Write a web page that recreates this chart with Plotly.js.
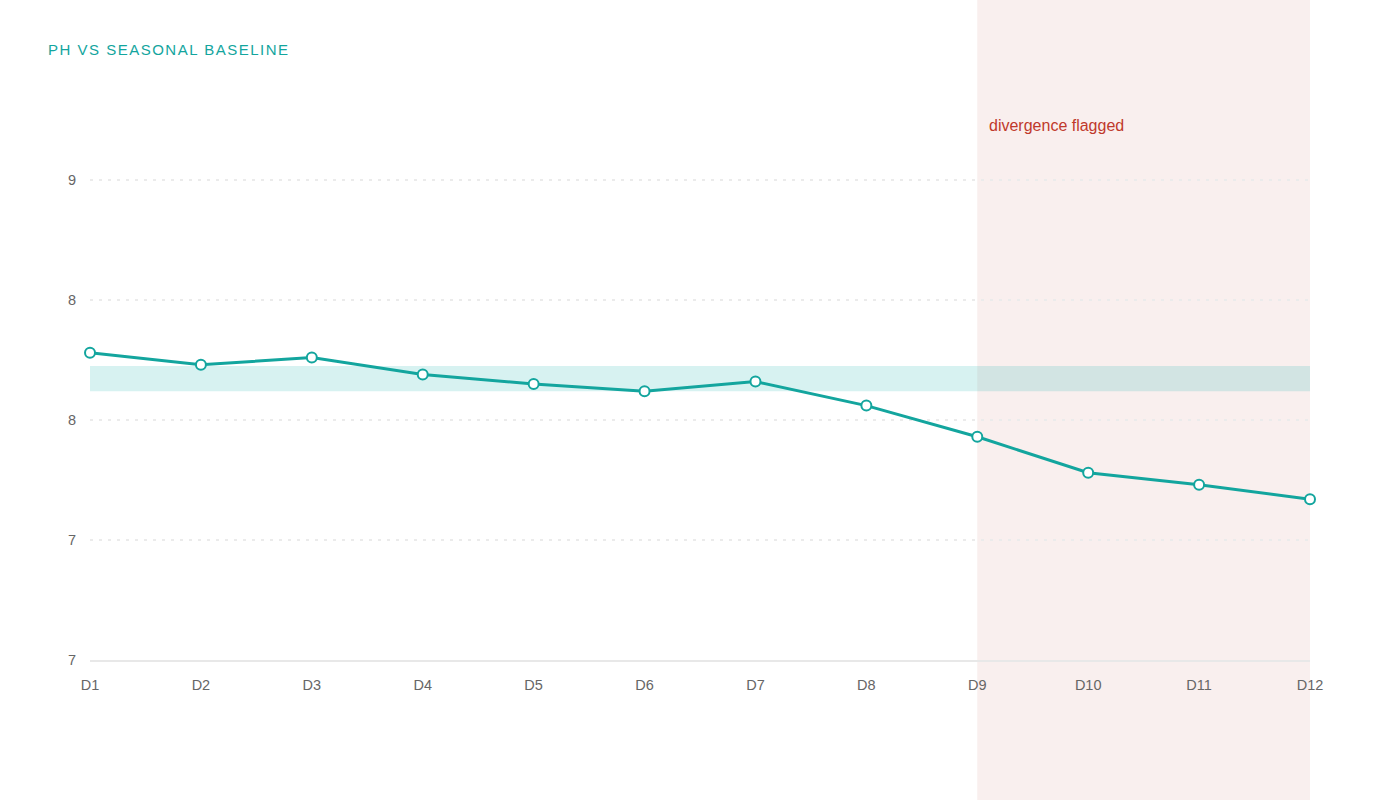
<!DOCTYPE html>
<html>
<head>
<meta charset="utf-8">
<script src="https://cdn.plot.ly/plotly-3.0.1.min.js"></script>
<style>
  html, body { margin: 0; padding: 0; background: #fff; }
  #plot { width: 1400px; height: 800px; }
</style>
</head>
<body>
<div id="plot"></div>
<script>
// days along the x axis
var days = ['D1', 'D2', 'D3', 'D4', 'D5', 'D6', 'D7', 'D8', 'D9', 'D10', 'D11', 'D12'];
var phValues = [8.28, 8.23, 8.26, 8.19, 8.15, 8.12, 8.16, 8.06, 7.93, 7.78, 7.73, 7.67];
// seasonal baseline band (low / high)
var baselineBand = [8.12, 8.225];
// the flagged stretch starts and ends on these days
var flaggedDays = ['D9', 'D12'];
// y ticks and the labels the chart shows for them
var yTickVals = [7, 7.5, 8, 8.5, 9];
var yTickText = ['7', '7', '8', '8', '9'];

var teal = '#13a59e';
var font = 'Liberation Sans, Arial, sans-serif';

var trace1 = {
  x: days,
  y: phValues,
  type: 'scatter',
  mode: 'lines+markers',
  line: { color: teal, width: 3 },
  marker: { size: 10, color: '#ffffff', line: { color: teal, width: 2 } },
  cliponaxis: false,
  hoverinfo: 'skip',
  showlegend: false
};

var layout = {
  width: 1400,
  height: 800,
  margin: { l: 90, r: 90, t: 84, b: 140 },
  paper_bgcolor: '#ffffff',
  plot_bgcolor: 'rgba(0,0,0,0)',
  font: { family: font, color: '#666666', size: 14 },
  title: {
    text: 'PH VS SEASONAL BASELINE',
    font: { family: font, size: 15, color: teal },
    xref: 'container', yref: 'container',
    x: 48 / 1400, xanchor: 'left',
    y: 1 - 50 / 800, yanchor: 'middle'
  },
  xaxis: {
    type: 'category',
    range: [0, 11],
    showgrid: false,
    zeroline: false,
    showline: true,
    linecolor: '#e8e8e8',
    linewidth: 1.5,
    ticks: '',
    ticklabelstandoff: 11,
    tickfont: { size: 14.5, color: '#666666' }
  },
  yaxis: {
    range: [7, 9.4],
    tickvals: yTickVals,
    ticktext: yTickText,
    showgrid: true,
    gridcolor: '#ebebeb',
    griddash: '3px,6px',
    gridwidth: 1.5,
    zeroline: false,
    showline: false,
    ticks: '',
    ticklabelstandoff: 13,
    tickfont: { size: 14.5, color: '#666666' }
  },
  shapes: [
    {
      type: 'rect', layer: 'below',
      xref: 'x', yref: 'paper',
      x0: flaggedDays[0], x1: flaggedDays[1],
      y0: -0.3, y1: 1.2,
      fillcolor: '#f9efee', line: { width: 0 }
    },
    {
      type: 'rect', layer: 'below',
      xref: 'x', yref: 'y',
      x0: days[0], x1: days[days.length - 1],
      y0: baselineBand[0], y1: baselineBand[1],
      fillcolor: 'rgba(20,178,173,0.17)', line: { width: 0 }
    }
  ],
  annotations: [
    {
      text: 'divergence flagged',
      xref: 'x', yref: 'paper',
      x: flaggedDays[0], y: (660 - 125) / 576,
      xanchor: 'left', yanchor: 'middle',
      xshift: 10,
      showarrow: false,
      font: { family: font, size: 16, color: '#c0392b' }
    }
  ]
};

Plotly.newPlot('plot', [trace1], layout, { displayModeBar: false, staticPlot: true }).then(function () {
  // plotly has no letter-spacing option, so set it on the drawn title
  var t = document.querySelector('.gtitle');
  if (t) t.style.letterSpacing = '1.5px';
});
</script>
</body>
</html>
